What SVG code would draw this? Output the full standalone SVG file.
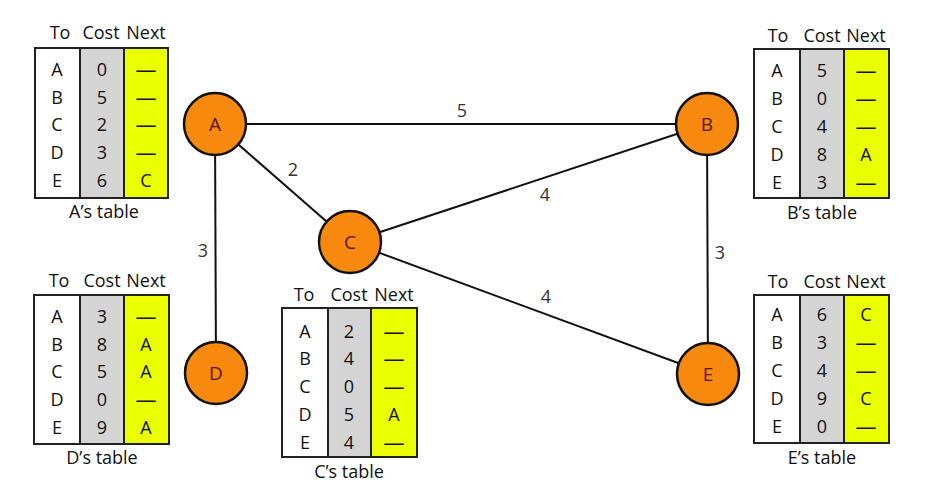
<svg xmlns="http://www.w3.org/2000/svg" width="931" height="504" viewBox="0 0 931 504">
<style>
text{font-family:"Open Sans","Liberation Sans",sans-serif;font-size:18px;text-anchor:middle;fill:#111}
text.d{font-size:21px}
.c1{fill:#fff}
.c2{fill:#d4d4d4}
.c3{fill:#eaff00}
.bd{fill:none;stroke:#222;stroke-width:2}
.dv{stroke:#222;stroke-width:2}
.node circle{fill:#f78a0e;stroke:#111;stroke-width:2.5}
.node text{fill:#5a1400;font-size:19px}
.edge{stroke:#111;stroke-width:2}
.el{fill:#333}
</style>
<rect width="931" height="504" fill="#fff"/>
<g id="connectors">
<line class="edge" x1="215" y1="124" x2="707" y2="124"/>
<line class="edge" x1="215" y1="124" x2="350" y2="242"/>
<line class="edge" x1="215" y1="124" x2="216" y2="373"/>
<line class="edge" x1="350" y1="242" x2="707" y2="124"/>
<line class="edge" x1="350" y1="242" x2="708" y2="374"/>
<line class="edge" x1="707" y1="124" x2="708" y2="374"/>
<text class="el" x="462" y="117">5</text>
<text class="el" x="293" y="176">2</text>
<text class="el" x="203" y="257">3</text>
<text class="el" x="545" y="201">4</text>
<text class="el" x="546" y="303">4</text>
<text class="el" x="720" y="259">3</text>
</g>
<g id="A" class="node"><circle cx="215" cy="124" r="31"/><text x="215" y="131">A</text></g>
<g id="B" class="node"><circle cx="707" cy="124" r="31"/><text x="707" y="131">B</text></g>
<g id="C" class="node"><circle cx="350" cy="242" r="31"/><text x="350" y="249">C</text></g>
<g id="D" class="node"><circle cx="216" cy="373" r="31"/><text x="216" y="380">D</text></g>
<g id="E" class="node"><circle cx="708" cy="374" r="31"/><text x="708" y="381">E</text></g>

<g id="tableA">
<rect class="c1" x="35" y="48" width="45" height="150"/><rect class="c2" x="80" y="48" width="44" height="150"/><rect class="c3" x="124" y="48" width="44" height="150"/>
<line class="dv" x1="80" y1="48" x2="80" y2="198"/><line class="dv" x1="124" y1="48" x2="124" y2="198"/><rect class="bd" x="35" y="48" width="133" height="150"/>
<text x="60" y="39">To</text><text x="101" y="39">Cost</text><text x="146" y="39">Next</text>
<text x="57" y="76">A</text><text x="57" y="104">B</text><text x="57" y="131">C</text><text x="57" y="159">D</text><text x="57" y="187">E</text>
<text x="102" y="76">0</text><text x="102" y="104">5</text><text x="102" y="131">2</text><text x="102" y="159">3</text><text x="102" y="187">6</text>
<text class="d" x="146" y="77">—</text><text class="d" x="146" y="105">—</text><text class="d" x="146" y="132">—</text><text class="d" x="146" y="160">—</text><text x="146" y="187">C</text>
<text x="104" y="218">A’s table</text>
</g>

<g id="tableB">
<rect class="c1" x="754" y="49" width="46" height="149"/><rect class="c2" x="800" y="49" width="44" height="149"/><rect class="c3" x="844" y="49" width="45" height="149"/>
<line class="dv" x1="800" y1="49" x2="800" y2="198"/><line class="dv" x1="844" y1="49" x2="844" y2="198"/><rect class="bd" x="754" y="49" width="135" height="149"/>
<text x="778" y="42">To</text><text x="822" y="42">Cost</text><text x="866" y="42">Next</text>
<text x="777" y="77">A</text><text x="777" y="105">B</text><text x="777" y="133">C</text><text x="777" y="161">D</text><text x="777" y="189">E</text>
<text x="822" y="77">5</text><text x="822" y="105">0</text><text x="822" y="133">4</text><text x="822" y="161">8</text><text x="822" y="189">3</text>
<text class="d" x="866" y="78">—</text><text class="d" x="866" y="106">—</text><text class="d" x="866" y="134">—</text><text x="866" y="161">A</text><text class="d" x="866" y="190">—</text>
<text x="822" y="219">B’s table</text>
</g>

<g id="tableD">
<rect class="c1" x="34" y="295" width="46" height="149"/><rect class="c2" x="80" y="295" width="44" height="149"/><rect class="c3" x="124" y="295" width="45" height="149"/>
<line class="dv" x1="80" y1="295" x2="80" y2="444"/><line class="dv" x1="124" y1="295" x2="124" y2="444"/><rect class="bd" x="34" y="295" width="135" height="149"/>
<text x="59" y="287">To</text><text x="102" y="287">Cost</text><text x="146" y="287">Next</text>
<text x="57" y="323">A</text><text x="57" y="351">B</text><text x="57" y="378">C</text><text x="57" y="406">D</text><text x="57" y="434">E</text>
<text x="102" y="323">3</text><text x="102" y="351">8</text><text x="102" y="378">5</text><text x="102" y="406">0</text><text x="102" y="434">9</text>
<text class="d" x="146" y="324">—</text><text x="146" y="351">A</text><text x="146" y="378">A</text><text class="d" x="146" y="407">—</text><text x="146" y="434">A</text>
<text x="102" y="464">D’s table</text>
</g>

<g id="tableC">
<rect class="c1" x="282" y="308" width="46" height="149"/><rect class="c2" x="328" y="308" width="43" height="149"/><rect class="c3" x="371" y="308" width="46" height="149"/>
<line class="dv" x1="328" y1="308" x2="328" y2="457"/><line class="dv" x1="371" y1="308" x2="371" y2="457"/><rect class="bd" x="282" y="308" width="135" height="149"/>
<text x="304" y="301">To</text><text x="349" y="301">Cost</text><text x="394" y="301">Next</text>
<text x="305" y="338">A</text><text x="305" y="365">B</text><text x="305" y="393">C</text><text x="305" y="421">D</text><text x="305" y="449">E</text>
<text x="349" y="338">2</text><text x="349" y="365">4</text><text x="349" y="393">0</text><text x="349" y="421">5</text><text x="349" y="449">4</text>
<text class="d" x="394" y="339">—</text><text class="d" x="394" y="366">—</text><text class="d" x="394" y="394">—</text><text x="394" y="421">A</text><text class="d" x="394" y="450">—</text>
<text x="349" y="478">C’s table</text>
</g>

<g id="tableE">
<rect class="c1" x="754" y="295" width="46" height="148"/><rect class="c2" x="800" y="295" width="44" height="148"/><rect class="c3" x="844" y="295" width="45" height="148"/>
<line class="dv" x1="800" y1="295" x2="800" y2="443"/><line class="dv" x1="844" y1="295" x2="844" y2="443"/><rect class="bd" x="754" y="295" width="135" height="148"/>
<text x="778" y="288">To</text><text x="822" y="288">Cost</text><text x="866" y="288">Next</text>
<text x="777" y="321">A</text><text x="777" y="349">B</text><text x="777" y="377">C</text><text x="777" y="405">D</text><text x="777" y="433">E</text>
<text x="822" y="321">6</text><text x="822" y="349">3</text><text x="822" y="377">4</text><text x="822" y="405">9</text><text x="822" y="433">0</text>
<text x="866" y="321">C</text><text class="d" x="866" y="350">—</text><text class="d" x="866" y="378">—</text><text x="866" y="405">C</text><text class="d" x="866" y="434">—</text>
<text x="822" y="464">E’s table</text>
</g>
</svg>
